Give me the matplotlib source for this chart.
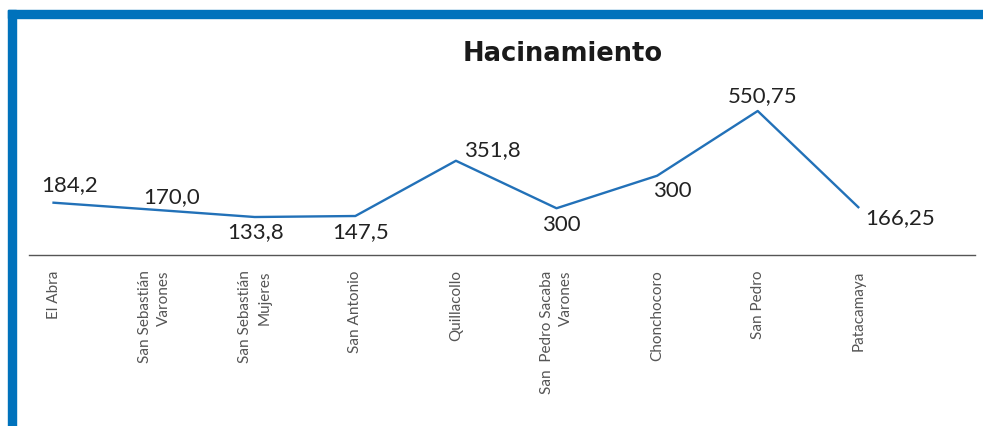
import matplotlib.pyplot as plt
from matplotlib.patches import Rectangle

# data (line heights) and the printed labels
places = ['El Abra', 'San Sebastián\nVarones', 'San Sebastián\nMujeres', 'San Antonio',
          'Quillacollo', 'San  Pedro Sacaba\nVarones', 'Chonchocoro', 'San Pedro', 'Patacamaya']
values = [184.2, 156, 127, 131, 351.8, 162, 292, 550.75, 166.25]
value_labels = ['184,2', '170,0', '133,8', '147,5', '351,8', '300', '300', '550,75', '166,25']

# label offsets from their point, in pixels (dx, dy up)
label_offsets = [(16, 18), (17, 13), (1, -15), (5, -16), (36, 11), (5, -17), (15, -15), (5, 15), (42, -11)]

fig = plt.figure(figsize=(9.83, 4.26), dpi=100)
W, H = 983, 426

# blue frame (top and left bars)
fig.patches.append(Rectangle((8 / W, 0), 8 / W, (H - 10) / H, transform=fig.transFigure,
                             color='#0072BC', zorder=0))
fig.patches.append(Rectangle((8 / W, (H - 18) / H), (W - 8) / W, 8 / H, transform=fig.transFigure,
                             color='#0072BC', zorder=0))

ax = fig.add_axes([29 / W, (H - 255) / H, (975 - 29) / W, (255 - 90) / H])
x = list(range(len(values)))
ax.plot(x, values, color='#2271B8', linewidth=1.7)
ax.set_xlim(-0.244, 9.16)
ax.set_ylim(-24.8, 634.6)

for xi, v, lab, (dx, dy) in zip(x, values, value_labels, label_offsets):
    ax.annotate(lab, (xi, v), xytext=(dx, dy), textcoords='offset pixels',
                ha='center', va='center', fontsize=16, color='#222222', family='Lato')

ax.set_xticks(x)
ax.set_xticklabels(places, rotation=90, ha='center', va='top', multialignment='right',
                   fontsize=11, color='#555555', family='Lato', fontweight='normal',
                   linespacing=1.45)
ax.tick_params(axis='x', length=0, pad=11)
ax.set_yticks([])
for s in ['top', 'left', 'right']:
    ax.spines[s].set_visible(False)
ax.spines['bottom'].set_color('#555555')
ax.spines['bottom'].set_linewidth(1.0)

fig.text(563 / W, (H - 54) / H, 'Hacinamiento', ha='center', va='center',
         fontsize=18.5, fontweight='bold', family='DejaVu Sans', color='#1a1a1a')

fig.savefig('out.png', dpi=100)
